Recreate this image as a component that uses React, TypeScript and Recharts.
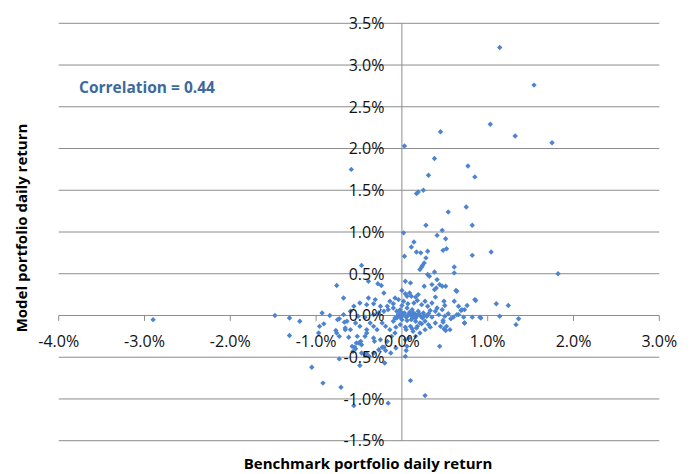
import React from 'react';
import { ScatterChart, Scatter, XAxis, YAxis, ReferenceLine, ReferenceDot } from 'recharts';

// Axis ticks (percent units)
const xTicks = [-4, -3, -2, -1, 0, 1, 2, 3];
const yTicks = [-1.5, -1, -0.5, 0, 0.5, 1, 1.5, 2, 2.5, 3, 3.5];

// [benchmark daily return %, model daily return %]
const upperTail: [number, number][] = [
  [1.14, 3.21], [1.54, 2.76], [1.03, 2.29], [1.32, 2.15], [1.75, 2.07], [0.45, 2.2],
  [0.03, 2.03], [-0.59, 1.75], [0.38, 1.88], [0.77, 1.79], [0.85, 1.66], [0.31, 1.68],
  [0.17, 1.46], [0.19, 1.48], [0.25, 1.5], [0.75, 1.3], [0.54, 1.24], [0.28, 1.08],
  [0.82, 1.08], [0.47, 1.02], [0.02, 0.99], [0.41, 0.96], [0.51, 0.92],
];

const midBand: [number, number][] = [
  [0.14, 0.88], [0.11, 0.82], [0.52, 0.8], [0.48, 0.78], [0.17, 0.76], [0.22, 0.75],
  [0.3, 0.77], [0.82, 0.72], [1.04, 0.76], [0.03, 0.71], [0.28, 0.69], [0.26, 0.63],
  [0.24, 0.6], [0.23, 0.58], [0.21, 0.55], [0.61, 0.58], [0.61, 0.51], [0.38, 0.52],
  [0.3, 0.49], [0.32, 0.47], [1.82, 0.5], [-0.47, 0.6], [0.04, 0.41], [0.1, 0.39],
  [0.41, 0.43], [-0.39, 0.41], [-0.28, 0.38], [-0.24, 0.36], [0.26, 0.35], [0.35, 0.37],
  [0.44, 0.37], [0.47, 0.35], [0.51, 0.35], [0.4, 0.33], [0.38, 0.31], [0.63, 0.3],
  [0.0, 0.3], [-0.76, 0.36], [0.64, 0.29],
];

const coreCluster: [number, number][] = [
  [0.04, 0.26], [0.09, 0.27], [0.06, 0.23], [0.11, 0.23], [0.16, 0.22], [0.19, 0.25],
  [0.18, 0.18], [-0.04, 0.19], [0.02, 0.17], [0.14, 0.15], [0.23, 0.13], [0.27, 0.17],
  [0.3, 0.11], [0.35, 0.15], [0.39, 0.22], [0.41, 0.09], [0.47, 0.07], [0.39, 0.05],
  [0.33, 0.06], [0.25, 0.03], [0.19, 0.05], [0.12, 0.07], [0.06, 0.09], [-0.02, 0.07],
  [-0.06, 0.05], [-0.04, 0.01], [0.02, 0.02], [0.08, 0.01], [0.14, -0.01], [0.18, 0.0],
  [0.22, -0.01], [0.29, -0.01], [0.35, -0.02], [0.43, 0.01], [0.5, -0.01], [0.54, 0.02],
  [0.66, 0.01], [-0.08, -0.03], [0.0, -0.05], [0.06, -0.06], [0.11, -0.05], [0.16, -0.07],
  [0.21, -0.09], [0.27, -0.07], [0.31, -0.11], [0.39, -0.09], [0.45, -0.13], [0.1, -0.13],
  [0.04, -0.14], [0.17, -0.15], [0.57, -0.04], [0.48, -0.08], [0.49, -0.16], [0.72, -0.02],
  [0.73, -0.09], [0.82, -0.02], [0.91, -0.02], [0.76, 0.12], [0.73, 0.07], [0.69, 0.06],
  [0.61, 0.17], [0.66, 0.11], [0.49, 0.17], [0.5, 0.12], [0.86, 0.18], [0.7, 0.07],
  [0.6, -0.02], [0.64, 0.01], [0.48, -0.06], [0.52, -0.13], [0.33, -0.14], [0.23, -0.1],
  [0.18, -0.13], [0.12, -0.16], [0.05, -0.17], [0.13, -0.19], [0.04, -0.29], [-0.08, -0.21],
  [-0.14, -0.17], [-0.19, -0.13], [-0.23, -0.09], [-0.29, -0.17], [-0.33, -0.13], [-0.37, -0.09],
  [-0.41, -0.17], [-0.49, -0.13], [-0.54, -0.09], [-0.6, -0.17], [-0.66, -0.15], [-0.64, -0.07],
  [-0.51, -0.01], [-0.43, -0.02], [-0.33, 0.01], [-0.27, 0.03], [-0.21, 0.05], [-0.16, 0.07],
  [-0.1, 0.09], [-0.17, 0.11], [-0.25, 0.11], [-0.33, 0.14], [-0.41, 0.13], [-0.49, 0.15],
  [-0.56, 0.11], [-0.6, 0.05], [-0.68, 0.01], [-0.31, 0.19], [-0.39, 0.21], [-0.14, 0.17],
  [-0.08, 0.21], [-0.1, 0.14], [-0.21, 0.27], [-0.04, 0.0], [-0.06, -0.03], [-0.1, -0.07],
  [-0.02, -0.11], [-0.07, -0.14], [-0.12, -0.25], [-0.17, -0.31], [-0.25, -0.29], [-0.33, -0.27],
  [-0.43, -0.25], [-0.52, -0.25], [0.08, -0.27], [0.16, -0.25], [0.21, -0.21], [0.27, -0.17],
  [0.03, 0.03], [0.05, -0.02], [0.09, 0.04], [0.12, -0.03], [0.15, 0.02], [0.2, 0.02],
  [0.24, -0.03], [0.01, 0.0], [0.07, 0.0], [0.1, 0.01], [0.13, 0.03], [0.16, -0.03],
  [0.26, 0.0], [0.31, 0.02], [-0.01, 0.04], [0.0, 0.12], [0.07, 0.14], [-0.02, -0.02],
];

const leftWing: [number, number][] = [
  [-2.9, -0.05], [-1.48, 0.0], [-1.31, -0.03], [-1.19, -0.07], [-1.31, -0.24], [-0.93, 0.03],
  [-0.84, 0.0], [-0.68, 0.21], [-0.91, -0.1], [-0.96, -0.13], [-0.75, -0.05], [-0.73, -0.04],
  [-0.67, -0.08], [-0.77, -0.18], [-0.66, -0.17], [-0.73, -0.25], [-0.97, -0.21], [-0.76, -0.21],
];

const lowerTail: [number, number][] = [
  [-0.73, -0.52], [-1.05, -0.62], [-0.92, -0.81], [-0.71, -0.86], [-0.56, -1.08], [-0.16, -1.05],
  [0.1, -0.78], [0.27, -0.96], [-0.49, -0.6], [-0.2, -0.57], [0.44, -0.37], [-0.58, -0.37],
  [-0.55, -0.38], [-0.54, -0.4], [-0.57, -0.43], [-0.47, -0.45], [-0.41, -0.46], [-0.38, -0.49],
  [-0.5, -0.33], [-0.48, -0.31], [-0.32, -0.31], [-0.62, -0.26], [-0.41, -0.21], [-0.23, -0.38],
  [-0.19, -0.42], [-0.13, -0.45], [-0.07, -0.39], [0.05, -0.42], [0.04, -0.49], [-0.53, -0.33],
  [-0.47, -0.35], [-0.21, -0.38], [-0.27, -0.41], [-0.33, -0.45], [-0.43, -0.47], [0.06, -0.37],
];

const rightTail: [number, number][] = [
  [0.85, 0.19], [1.1, 0.14], [1.24, 0.12], [1.14, -0.01], [1.36, -0.04], [1.33, -0.11],
  [0.92, -0.03], [0.73, -0.09], [0.56, -0.17], [0.51, -0.18],
];

const data = [...upperTail, ...midBand, ...coreCluster, ...leftWing, ...lowerTail, ...rightTail].map(
  ([x, y]) => ({ x, y })
);

const fmt = (v: number) => `${v.toFixed(1)}%`;

const POINT = '#4D84CF';
const GRID = '#8C8C8C';
const TICK_FONT = { fontFamily: 'Open Sans', fontSize: 16, fill: '#111' };

const Diamond = (props: any) => {
  const { cx, cy } = props;
  const r = 2.7;
  return <path d={`M${cx},${cy - r}L${cx + r},${cy}L${cx},${cy + r}L${cx - r},${cy}Z`} fill={POINT} />;
};

const xLabel = (text: string) => (props: any) => {
  const vb = props.viewBox || {};
  return (
    <text x={vb.x} y={vb.y + 26} dy="0.36em" textAnchor="middle" {...TICK_FONT}>
      {text}
    </text>
  );
};

const yLabel = (text: string) => (props: any) => {
  const vb = props.viewBox || {};
  return (
    <text x={vb.x - 17.5} y={vb.y} dy="0.36em" textAnchor="end" {...TICK_FONT}>
      {text}
    </text>
  );
};

export default function App() {
  return (
    <div style={{ position: 'absolute', left: 0, top: 0, width: 694, height: 474, background: '#fff' }}>
      <ScatterChart
        width={694}
        height={474}
        margin={{ top: 23.3, right: 34.7, bottom: 33.3, left: 58.7 }}
      >
        <XAxis type="number" dataKey="x" domain={[-4, 3]} ticks={xTicks} hide />
        <YAxis type="number" dataKey="y" domain={[-1.5, 3.5]} ticks={yTicks} hide />
        {yTicks.map((t) => (
          <ReferenceLine key={`g${t}`} y={t} stroke={GRID} strokeWidth={1} />
        ))}
        <ReferenceLine x={0} stroke={GRID} strokeWidth={1} />
        {xTicks.map((t) => (
          <ReferenceLine
            key={`xt${t}`}
            segment={[{ x: t, y: 0 }, { x: t, y: -0.065 }]}
            stroke={GRID}
            strokeWidth={1}
          />
        ))}
        <Scatter data={data} shape={<Diamond />} isAnimationActive={false} />
        {xTicks.map((t) => (
          <ReferenceDot key={`xl${t}`} x={t} y={0} r={0} fill="none" stroke="none" label={xLabel(fmt(t))} />
        ))}
        {yTicks.map((t) => (
          <ReferenceDot key={`yl${t}`} x={0} y={t} r={0} fill="none" stroke="none" label={yLabel(fmt(t))} />
        ))}
      </ScatterChart>
      <div
        style={{
          position: 'absolute', left: 79, top: 87, transform: 'translateY(-50%)',
          fontFamily: 'Open Sans', fontWeight: 700, fontSize: 15.5, color: '#3D6A9E', whiteSpace: 'nowrap',
        }}
      >
        Correlation = 0.44
      </div>
      <div
        style={{
          position: 'absolute', left: 368, top: 463, transform: 'translate(-50%, -50%)',
          fontFamily: 'Open Sans', fontWeight: 700, fontSize: 15, color: '#000', whiteSpace: 'nowrap',
        }}
      >
        Benchmark portfolio daily return
      </div>
      <div
        style={{
          position: 'absolute', left: 20.5, top: 228, transform: 'translate(-50%, -50%) rotate(-90deg)',
          fontFamily: 'Open Sans', fontWeight: 700, fontSize: 15, color: '#000', whiteSpace: 'nowrap',
        }}
      >
        Model portfolio daily return
      </div>
    </div>
  );
}
